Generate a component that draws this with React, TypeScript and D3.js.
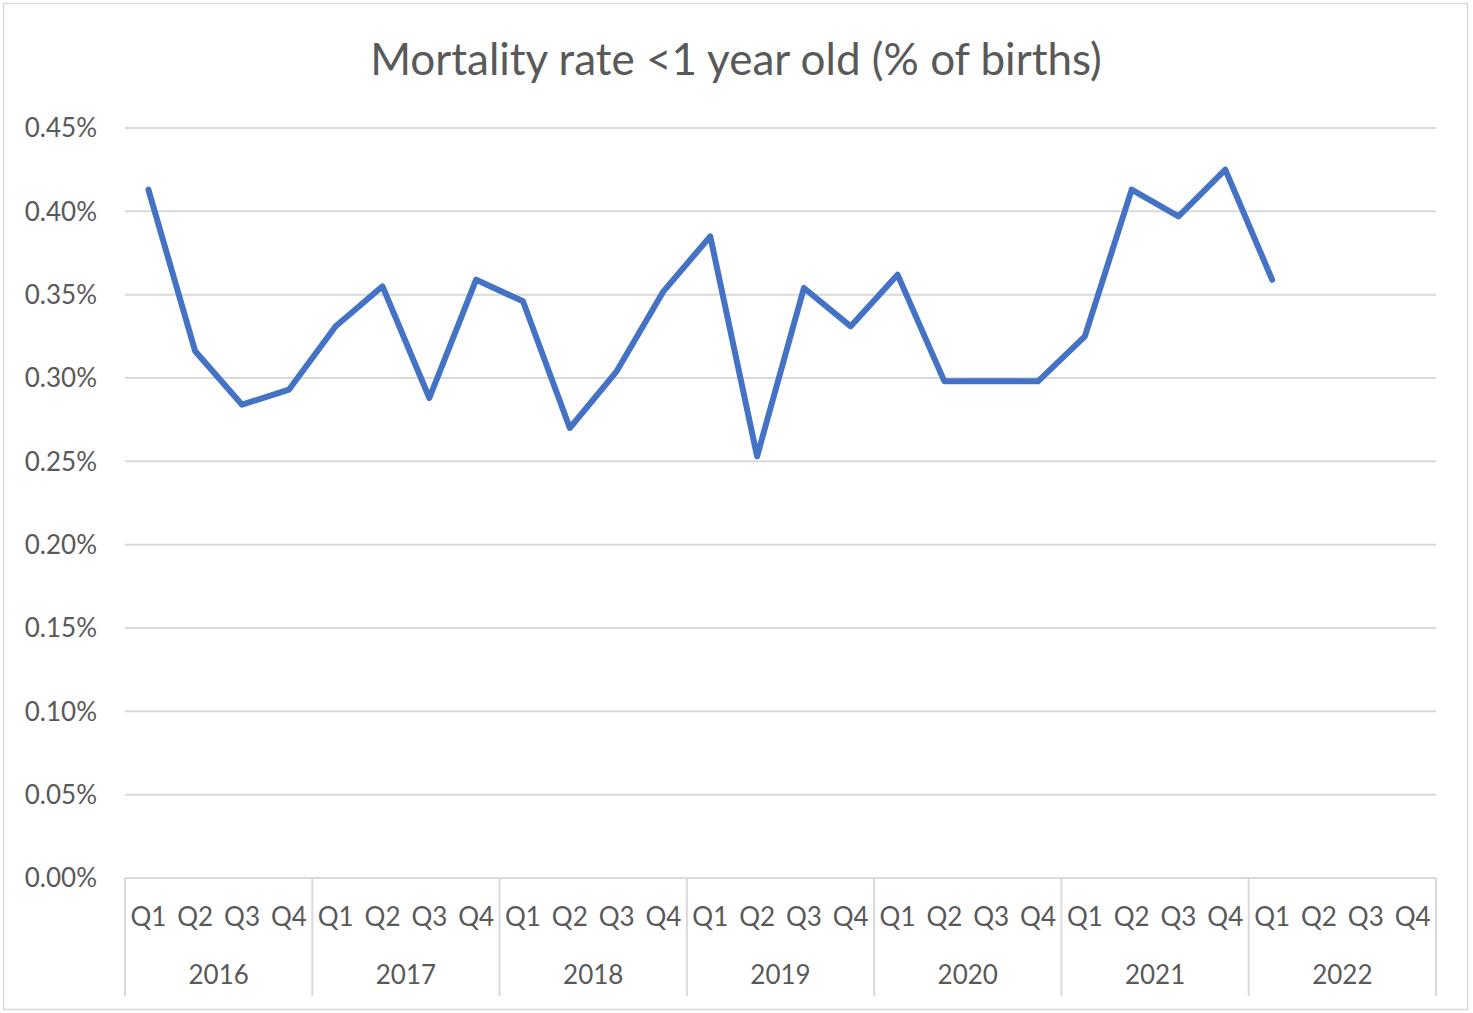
import React from "react";
import * as d3 from "d3";

// quarterly infant mortality, % of births
const years = ["2016", "2017", "2018", "2019", "2020", "2021", "2022"];
const quarters = ["Q1", "Q2", "Q3", "Q4"];
const rates: (number | null)[] = [
  0.413, 0.316, 0.284, 0.293,
  0.331, 0.355, 0.288, 0.359,
  0.346, 0.270, 0.304, 0.352,
  0.385, 0.253, 0.354, 0.331,
  0.362, 0.298, 0.298, 0.298,
  0.325, 0.413, 0.397, 0.425,
  0.359, null, null, null,
];
const yTicks = [0, 0.05, 0.1, 0.15, 0.2, 0.25, 0.3, 0.35, 0.4, 0.45];

const W = 1473;
const H = 1013;
const m = { left: 125, right: 1436, top: 128, bottom: 878 };
const textColor = "#595959";
const gridColor = "#d9d9d9";
const font = "Lato, 'Open Sans', sans-serif";

export default function App() {
  const cats = years.flatMap(y => quarters.map(q => `${y}-${q}`));
  const x = d3.scaleBand<string>().domain(cats).range([m.left, m.right]);
  const y = d3.scaleLinear().domain([0, 0.45]).range([m.bottom, m.top]);
  const yearBand = d3.scaleBand<string>().domain(years).range([m.left, m.right]);

  const pts = rates
    .map((v, i) => ({ v, c: cats[i] }))
    .filter(d => d.v !== null) as { v: number; c: string }[];
  const line = d3
    .line<{ v: number; c: string }>()
    .x(d => x(d.c)! + x.bandwidth() / 2)
    .y(d => y(d.v));

  // values are already in percent units
  const pct = (t: number) => d3.format(".2f")(t) + "%";

  return (
    <div style={{ position: "absolute", left: 0, top: 0 }}>
      <svg width={W} height={H} style={{ display: "block", fontFamily: font }}>
        <rect x={0} y={0} width={W} height={H} fill="#fff" />
        <rect x={3.5} y={3.5} width={1464} height={1006} fill="#fff" stroke={gridColor} strokeWidth={1.5} />
        <text x={736} y={75} textAnchor="middle" fill={textColor} fontSize={44}>
          Mortality rate &lt;1 year old (% of births)
        </text>

        {yTicks.map(t => (
          <g key={t}>
            {t > 0 && (
              <line x1={m.left} x2={m.right} y1={y(t)} y2={y(t)} stroke={gridColor} strokeWidth={2} />
            )}
            <text x={97} y={y(t)} dy="0.36em" textAnchor="end" fill={textColor} fontSize={26}>
              {pct(t)}
            </text>
          </g>
        ))}

        {/* category axis */}
        <line x1={m.left} x2={m.right} y1={m.bottom} y2={m.bottom} stroke={gridColor} strokeWidth={2} />
        {years.map(yr => (
          <line
            key={"s" + yr}
            x1={yearBand(yr)!}
            x2={yearBand(yr)!}
            y1={m.bottom}
            y2={996}
            stroke={gridColor}
            strokeWidth={2}
          />
        ))}
        <line x1={m.right} x2={m.right} y1={m.bottom} y2={996} stroke={gridColor} strokeWidth={2} />
        {cats.map(c => (
          <text
            key={c}
            x={x(c)! + x.bandwidth() / 2}
            y={917}
            dy="0.36em"
            textAnchor="middle"
            fill={textColor}
            fontSize={26}
          >
            {c.split("-")[1]}
          </text>
        ))}
        {years.map(yr => (
          <text
            key={yr}
            x={yearBand(yr)! + yearBand.bandwidth() / 2}
            y={975}
            dy="0.36em"
            textAnchor="middle"
            fill={textColor}
            fontSize={26}
          >
            {yr}
          </text>
        ))}

        <path d={line(pts)!} fill="none" stroke="#4472c4" strokeWidth={6} strokeLinejoin="round" strokeLinecap="round" />
      </svg>
    </div>
  );
}
